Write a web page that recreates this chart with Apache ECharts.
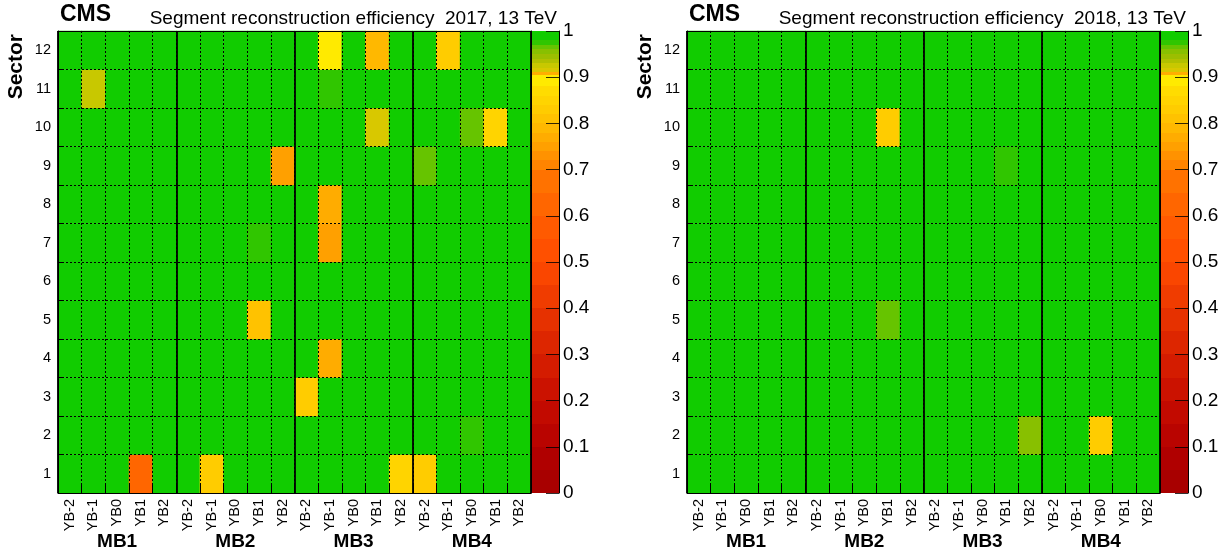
<!DOCTYPE html>
<html>
<head>
<meta charset="utf-8">
<title>DT segment reconstruction efficiency</title>
<script src="https://cdn.jsdelivr.net/npm/echarts@6/dist/echarts.min.js"></script>
<style>
  html, body { margin: 0; padding: 0; background: #fff; }
  #chart { width: 1230px; height: 551px; }
</style>
</head>
<body>
<div id="chart"></div>
<script>
// Chamber layout: stations along x (each split into five wheels), sectors along y
const stations = ['MB1', 'MB2', 'MB3', 'MB4'];
const wheels = ['YB-2', 'YB-1', 'YB0', 'YB1', 'YB2'];
const sectors = ['1', '2', '3', '4', '5', '6', '7', '8', '9', '10', '11', '12'];

// Efficiency per sector (rows: sector 1..12), columns: MB1 YB-2 ... MB4 YB2
const eff2017 = [
  [0.99, 0.99, 0.99, 0.62, 0.99,   0.99, 0.83, 0.99, 0.99, 0.99,   0.99, 0.99, 0.99, 0.99, 0.855,  0.835, 0.99, 0.99, 0.99, 0.99],
  [0.99, 0.99, 0.99, 0.99, 0.99,   0.99, 0.99, 0.99, 0.99, 0.99,   0.99, 0.99, 0.99, 0.99, 0.99,   0.99, 0.99, 0.975, 0.99, 0.99],
  [0.99, 0.99, 0.99, 0.99, 0.99,   0.99, 0.99, 0.99, 0.99, 0.99,   0.82, 0.99, 0.99, 0.99, 0.99,   0.99, 0.99, 0.99, 0.99, 0.99],
  [0.99, 0.99, 0.99, 0.99, 0.99,   0.99, 0.99, 0.99, 0.99, 0.99,   0.99, 0.77, 0.99, 0.99, 0.99,   0.99, 0.99, 0.99, 0.99, 0.99],
  [0.99, 0.99, 0.99, 0.99, 0.99,   0.99, 0.99, 0.99, 0.805, 0.99,  0.99, 0.99, 0.99, 0.99, 0.99,   0.99, 0.99, 0.99, 0.99, 0.99],
  [0.99, 0.99, 0.99, 0.99, 0.99,   0.99, 0.99, 0.99, 0.99, 0.99,   0.99, 0.99, 0.99, 0.99, 0.99,   0.99, 0.99, 0.99, 0.99, 0.99],
  [0.99, 0.99, 0.99, 0.99, 0.99,   0.99, 0.99, 0.99, 0.975, 0.99,  0.99, 0.75, 0.99, 0.99, 0.99,   0.99, 0.99, 0.99, 0.99, 0.99],
  [0.99, 0.99, 0.99, 0.99, 0.99,   0.99, 0.99, 0.99, 0.99, 0.99,   0.99, 0.77, 0.99, 0.99, 0.99,   0.99, 0.99, 0.99, 0.99, 0.99],
  [0.99, 0.99, 0.99, 0.99, 0.99,   0.99, 0.99, 0.99, 0.99, 0.75,   0.99, 0.99, 0.99, 0.99, 0.99,   0.962, 0.99, 0.99, 0.99, 0.99],
  [0.99, 0.99, 0.99, 0.99, 0.99,   0.99, 0.99, 0.99, 0.99, 0.99,   0.99, 0.99, 0.99, 0.915, 0.99,  0.99, 0.99, 0.962, 0.845, 0.99],
  [0.99, 0.925, 0.99, 0.99, 0.99,  0.99, 0.99, 0.99, 0.99, 0.99,   0.99, 0.975, 0.99, 0.99, 0.99,  0.99, 0.99, 0.99, 0.99, 0.99],
  [0.99, 0.99, 0.99, 0.99, 0.99,   0.99, 0.99, 0.99, 0.99, 0.99,   0.99, 0.895, 0.99, 0.79, 0.99,  0.99, 0.83, 0.99, 0.99, 0.99]
];

const eff2018 = [
  [0.99, 0.99, 0.99, 0.99, 0.99,   0.99, 0.99, 0.99, 0.99, 0.99,   0.99, 0.99, 0.99, 0.99, 0.99,   0.99, 0.99, 0.99, 0.99, 0.99],
  [0.99, 0.99, 0.99, 0.99, 0.99,   0.99, 0.99, 0.99, 0.99, 0.99,   0.99, 0.99, 0.99, 0.99, 0.955,  0.99, 0.99, 0.83, 0.99, 0.99],
  [0.99, 0.99, 0.99, 0.99, 0.99,   0.99, 0.99, 0.99, 0.99, 0.99,   0.99, 0.99, 0.99, 0.99, 0.99,   0.99, 0.99, 0.99, 0.99, 0.99],
  [0.99, 0.99, 0.99, 0.99, 0.99,   0.99, 0.99, 0.99, 0.99, 0.99,   0.99, 0.99, 0.99, 0.99, 0.99,   0.99, 0.99, 0.99, 0.99, 0.99],
  [0.99, 0.99, 0.99, 0.99, 0.99,   0.99, 0.99, 0.99, 0.965, 0.99,  0.99, 0.99, 0.99, 0.99, 0.99,   0.99, 0.99, 0.99, 0.99, 0.99],
  [0.99, 0.99, 0.99, 0.99, 0.99,   0.99, 0.99, 0.99, 0.99, 0.99,   0.99, 0.99, 0.99, 0.99, 0.99,   0.99, 0.99, 0.99, 0.99, 0.99],
  [0.99, 0.99, 0.99, 0.99, 0.99,   0.99, 0.99, 0.99, 0.99, 0.99,   0.99, 0.99, 0.99, 0.99, 0.99,   0.99, 0.99, 0.99, 0.99, 0.99],
  [0.99, 0.99, 0.99, 0.99, 0.99,   0.99, 0.99, 0.99, 0.99, 0.99,   0.99, 0.99, 0.99, 0.99, 0.99,   0.99, 0.99, 0.99, 0.99, 0.99],
  [0.99, 0.99, 0.99, 0.99, 0.99,   0.99, 0.99, 0.99, 0.99, 0.99,   0.99, 0.99, 0.99, 0.975, 0.99,  0.99, 0.99, 0.99, 0.99, 0.99],
  [0.99, 0.99, 0.99, 0.99, 0.99,   0.99, 0.99, 0.99, 0.83, 0.99,   0.99, 0.99, 0.99, 0.99, 0.99,   0.99, 0.99, 0.99, 0.99, 0.99],
  [0.99, 0.99, 0.99, 0.99, 0.99,   0.99, 0.99, 0.99, 0.99, 0.99,   0.99, 0.99, 0.99, 0.99, 0.99,   0.99, 0.99, 0.99, 0.99, 0.99],
  [0.99, 0.99, 0.99, 0.99, 0.99,   0.99, 0.99, 0.99, 0.99, 0.99,   0.99, 0.99, 0.99, 0.99, 0.99,   0.99, 0.99, 0.99, 0.99, 0.99]
];

// Colour palette: contour level edges and the colour of each band between them
const levelEdges = [0, 0.05, 0.10, 0.15, 0.20, 0.25, 0.30, 0.35, 0.40, 0.45, 0.50, 0.55, 0.60, 0.65, 0.70,
  0.72, 0.74, 0.76, 0.78, 0.80, 0.82, 0.84, 0.86, 0.88, 0.905, 0.912, 0.92, 0.93, 0.94, 0.95, 0.96, 0.97, 0.98, 1.0];
const levelColors = ['#a80000', '#b00000', '#b90400', '#c20a00', '#cb1200', '#d41c00', '#dd2600', '#e63100',
  '#f03c00', '#fa4600', '#ff5000', '#ff5a00', '#ff6600', '#ff7200',
  '#ff8400', '#ff9200', '#ffa000', '#ffac00', '#ffb800', '#ffc200', '#ffcc00', '#ffd400', '#ffdc00', '#ffea00',
  '#ffae00', '#d8c800', '#c8c800', '#b0c000', '#9cbe00', '#88c000', '#66c400', '#30c600', '#11cc00'];
const colorbarTicks = { min: 0, max: 1, step: 0.1 };

const FONT = "'Liberation Sans', Arial, Helvetica, sans-serif";
const columns = stations.flatMap(s => wheels.map(w => s + '|' + w));

function toCells(matrix) {
  const out = [];
  matrix.forEach((row, yi) => row.forEach((v, xi) => out.push([xi, yi, v])));
  return out;
}
const bands = levelColors.map((c, i) => [levelEdges[i], levelEdges[i + 1], i]);

const panels = [
  { label: '2017, 13 TeV', data: eff2017, left: 58 },
  { label: '2018, 13 TeV', data: eff2018, left: 687 }
];
const PLOT_TOP = 31, PLOT_W = 473, PLOT_H = 462, BAR_GAP = 1, BAR_W = 27;

const grid = [], xAxis = [], yAxis = [], series = [], graphic = [];
const dotted = { color: '#000', width: 1, type: [2, 2] };

panels.forEach((p) => {
  const gMap = grid.length;
  grid.push({ left: p.left, top: PLOT_TOP, width: PLOT_W, height: PLOT_H, containLabel: false, outerBoundsMode: 'none' });
  const gBar = grid.length;
  grid.push({ left: p.left + PLOT_W + BAR_GAP, top: PLOT_TOP, width: BAR_W, height: PLOT_H, containLabel: false, outerBoundsMode: 'none' });

  const xCells = xAxis.length;
  xAxis.push({
    gridIndex: gMap, type: 'category', data: columns, position: 'bottom', z: 10,
    axisLine: { show: true, onZero: false, lineStyle: { color: '#000', width: 1 } },
    axisTick: { show: true, inside: true, length: 8, interval: 0, lineStyle: { color: '#000' } },
    axisLabel: { interval: 0, rotate: 90, margin: 6, fontSize: 14.5, color: '#000', fontFamily: FONT,
      formatter: v => v.split('|')[1] },
    splitLine: { show: true, interval: 0, lineStyle: dotted }
  });
  xAxis.push({
    gridIndex: gMap, type: 'category', data: stations, position: 'bottom', z: 11,
    axisLine: { show: false, onZero: false }, axisTick: { show: false },
    axisLabel: { interval: 0, margin: 39, fontSize: 19, fontWeight: 'bold', color: '#000', fontFamily: FONT },
    splitLine: { show: true, interval: 0, lineStyle: { color: '#000', width: 1.8 } }
  });
  xAxis.push({
    gridIndex: gMap, type: 'category', data: columns, position: 'top', z: 11,
    axisLine: { show: true, onZero: false, lineStyle: { color: '#000', width: 1 } },
    axisTick: { show: false }, axisLabel: { show: false }, splitLine: { show: false }
  });
  const xBar = xAxis.length;
  xAxis.push({ gridIndex: gBar, type: 'value', min: 0, max: 1, show: false });

  const yCells = yAxis.length;
  yAxis.push({
    gridIndex: gMap, type: 'category', data: sectors, position: 'left', z: 10,
    axisLine: { show: true, onZero: false, lineStyle: { color: '#000', width: 1 } },
    axisTick: { show: true, inside: true, length: 6, interval: 0, lineStyle: { color: '#000' } },
    axisLabel: { interval: 0, margin: 7, fontSize: 14.5, color: '#000', fontFamily: FONT },
    splitLine: { show: true, interval: 0, lineStyle: dotted }
  });
  yAxis.push({
    gridIndex: gMap, type: 'category', data: sectors, position: 'right', z: 11,
    axisLine: { show: true, onZero: false, lineStyle: { color: '#000', width: 1 } },
    axisTick: { show: false }, axisLabel: { show: false }, splitLine: { show: false }
  });
  const yBar = yAxis.length;
  yAxis.push({
    gridIndex: gBar, type: 'value', position: 'right', z: 10,
    min: colorbarTicks.min, max: colorbarTicks.max, interval: colorbarTicks.step,
    axisLine: { show: true, onZero: false, lineStyle: { color: '#000', width: 1 } },
    axisTick: { show: true, inside: true, length: 13, lineStyle: { color: 'rgba(0,0,0,0.8)', width: 1 } },
    axisLabel: { margin: 4, fontSize: 19, color: '#000', fontFamily: FONT,
      formatter: v => String(Math.round(v * 10) / 10) },
    splitLine: { show: false }
  });

  series.push({
    type: 'heatmap', xAxisIndex: xCells, yAxisIndex: yCells,
    data: toCells(p.data), progressive: 0, emphasis: { disabled: true }, z: 2
  });
  series.push({
    type: 'custom', xAxisIndex: xBar, yAxisIndex: yBar, data: bands, silent: true, z: 2,
    renderItem: (params, api) => {
      const lo = api.coord([0, api.value(0)]);
      const hi = api.coord([1, api.value(1)]);
      const yTop = Math.round(hi[1]), yBottom = Math.round(lo[1]);
      return {
        type: 'rect',
        shape: { x: lo[0], y: yTop, width: hi[0] - lo[0], height: yBottom - yTop },
        style: { fill: levelColors[api.value(2)], stroke: null }
      };
    }
  });

  graphic.push({
    type: 'text', x: p.left + 2, y: 15,
    style: { text: 'CMS', font: 'bold 23px ' + FONT, fill: '#000', textAlign: 'left', textVerticalAlign: 'middle' }
  });
  graphic.push({
    type: 'text', x: p.left + PLOT_W + 26, y: 19,
    style: { text: 'Segment reconstruction efficiency  ' + p.label, font: '19px ' + FONT, fill: '#000',
      textAlign: 'right', textVerticalAlign: 'middle' }
  });
  graphic.push({
    type: 'text', x: p.left - 42, y: 34, rotation: Math.PI / 2,
    style: { text: 'Sector', font: 'bold 21px ' + FONT, fill: '#000', textAlign: 'right', textVerticalAlign: 'middle' }
  });
});

const pieces = levelColors.map((c, i) => i === levelColors.length - 1
  ? { gte: levelEdges[i], lte: levelEdges[i + 1], color: c }
  : { gte: levelEdges[i], lt: levelEdges[i + 1], color: c });

const chart = echarts.init(document.getElementById('chart'), null, { renderer: 'canvas' });
chart.setOption({
  animation: false,
  backgroundColor: '#fff',
  textStyle: { fontFamily: FONT },
  grid, xAxis, yAxis, series, graphic,
  visualMap: { type: 'piecewise', show: false, dimension: 2, seriesIndex: [0, 2], pieces }
});
</script>
</body>
</html>
